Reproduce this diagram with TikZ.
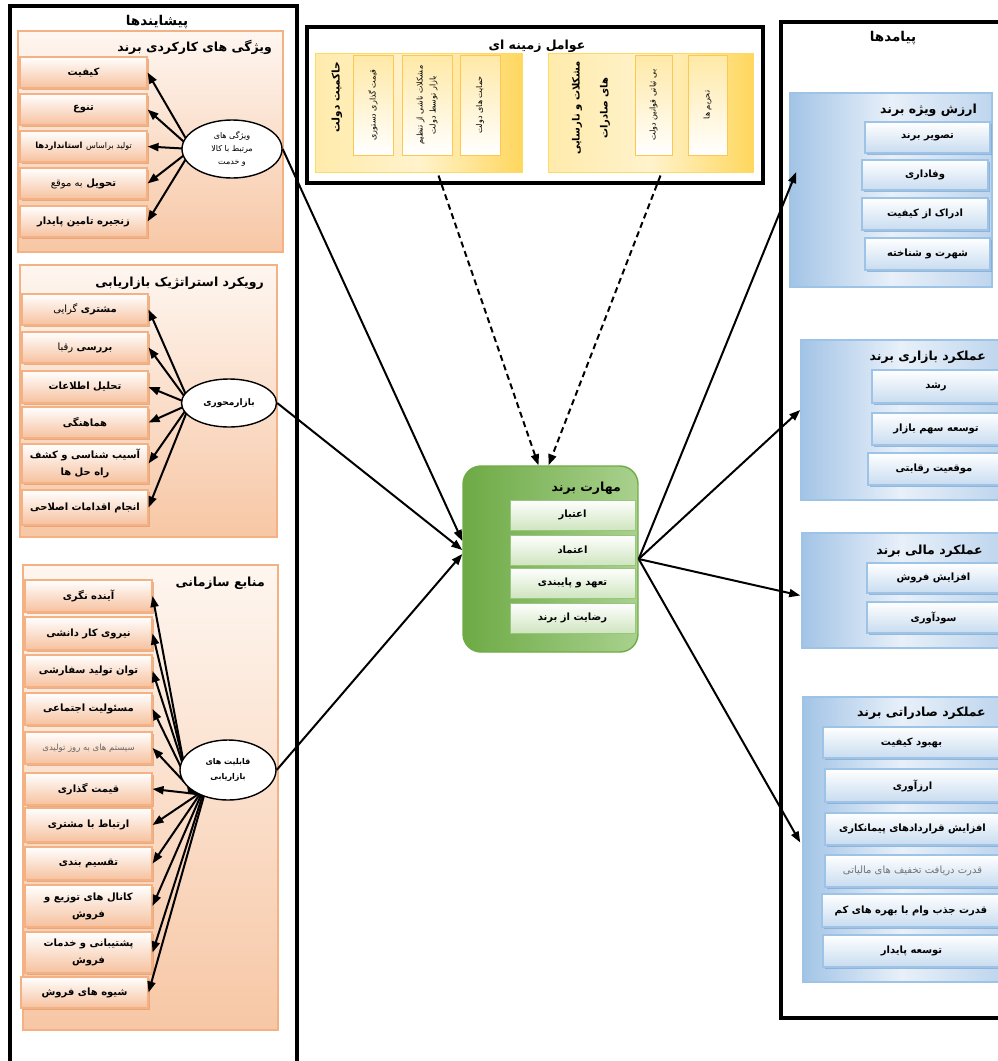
\documentclass[tikz,border=0pt]{standalone}
\usepackage{fontspec}
\setmainfont{DejaVu Sans}[Script=Arabic]
\TeXXeTstate=1
\usetikzlibrary{shapes.geometric,arrows.meta,shadows,calc}
\pgfdeclarelayer{front}
\pgfsetlayers{main,front}
\newcommand\fa[1]{\beginR #1\endR}
\newcommand\mybox[7]{\node[#1, minimum width={(#5-#3)*1pt}, minimum height={(#6-#4)*1pt}] (#2) at ({(#3+#5)/2},{(#4+#6)/2}) {#7};}
\newcommand\myvbox[7]{\node[#1, rotate=90, minimum width={(#6-#4)*1pt}, minimum height={(#5-#3)*1pt}] (#2) at ({(#3+#5)/2},{(#4+#6)/2}) {#7};}
\definecolor{oedge}{HTML}{F4B183}
\definecolor{otop}{HTML}{FEF6F0}
\definecolor{obot}{HTML}{F7C7A5}
\definecolor{oitem}{HTML}{F6C19E}
\definecolor{oshad}{HTML}{E59A6A}
\definecolor{yedge}{HTML}{FFD966}
\definecolor{ylight}{HTML}{FFF3CC}
\definecolor{ydark}{HTML}{FFD75E}
\definecolor{yitem}{HTML}{FFE9A6}
\definecolor{gedge}{HTML}{6FAC46}
\definecolor{gdark}{HTML}{6DAA45}
\definecolor{glight}{HTML}{A9D18E}
\definecolor{gitem}{HTML}{CFE5BF}
\definecolor{bedge}{HTML}{9DC3E6}
\definecolor{bdark}{HTML}{A3C4E6}
\definecolor{blight}{HTML}{E8F0F9}
\definecolor{bitem}{HTML}{C8DCF0}
\definecolor{bshad}{HTML}{7FA7D2}
\tikzset{
  every node/.style={inner sep=1pt},
  frame/.style={draw=black, line width=3.2pt},
  ttl/.style={font=\bfseries\fontsize{12.5}{14}\selectfont, anchor=east},
  bigttl/.style={font=\bfseries\fontsize{13.5}{15}\selectfont},
  itemtxt/.style={align=center, font=\bfseries\fontsize{10}{17}\selectfont},
  ocont/.style={draw=oedge, line width=1.6pt, top color=otop, bottom color=obot},
  oitembox/.style={itemtxt, draw=oedge, line width=1.1pt, top color=white, bottom color=oitem,
     drop shadow={fill=oshad, opacity=0.75, shadow xshift=1.6pt, shadow yshift=-1.6pt}},
  ycont/.style={draw=yedge, line width=1pt, left color=ylight!70!ydark, right color=ydark, middle color=ylight},
  yitembox/.style={draw=yedge!80!orange, line width=0.6pt, top color=yitem, bottom color=white, align=center,
     font=\fontsize{8}{13}\selectfont,
     drop shadow={fill=yedge!70!orange, opacity=0.6, shadow xshift=1.2pt, shadow yshift=-1.2pt}},
  gcont/.style={draw=gedge, line width=1.4pt, rounded corners=18pt, left color=gdark, right color=glight},
  gitembox/.style={itemtxt, draw=gedge!70, line width=0.6pt, top color=white, bottom color=gitem,
     drop shadow={fill=gedge, opacity=0.6, shadow xshift=1.3pt, shadow yshift=-1.3pt}},
  bcont/.style={draw=bedge, line width=1.5pt, left color=bdark, right color=bdark!70!white, middle color=blight},
  bitembox/.style={itemtxt, draw=bedge, line width=1.1pt, top color=white, bottom color=bitem,
     drop shadow={fill=bshad, opacity=0.75, shadow xshift=1.6pt, shadow yshift=-1.6pt}},
  ell/.style={ellipse, draw, line width=1.4pt, fill=white, align=center, inner sep=0pt,
     font=\fontsize{8}{13}\selectfont},
  arr/.style={-{Triangle[length=11pt,width=8pt]}, line width=2pt},
  darr/.style={arr, dash pattern=on 6pt off 4pt}
}
\begin{document}
\begin{tikzpicture}[x=1pt,y=-1pt]
\useasboundingbox (0,0) rectangle (997,1061);
\fill[white] (0,0) rectangle (997,1061);

% ---------- left column ----------
\draw[frame] (10,1070) -- (10,6) -- (297,6) -- (297,1070);
\node[bigttl] (tleft) at (157,22) {\fa{پیشایندها}};

% group 1
\mybox{ocont}{c1}{18}{31}{283}{252}{}
\node[ttl] (tc1) at (273,47) {\fa{ویژگی های کارکردی برند}};
\mybox{oitembox}{k1}{20}{57}{147}{88}{\fa{کیفیت}}
\mybox{oitembox}{k2}{20}{94}{147}{125}{\fa{تنوع}}
\mybox{oitembox}{k3}{20}{131}{147}{162}{\fa{{\mdseries\fontsize{8}{12}\selectfont تولید براساس} {\fontsize{8.5}{12}\selectfont استانداردها}}}
\mybox{oitembox}{k4}{20}{168}{147}{199}{\fa{تحویل {\mdseries به موقع}}}
\mybox{oitembox}{k5}{20}{206}{147}{237}{\fa{زنجیره تامین پایدار}}
\begin{pgfonlayer}{front}
\node[ell, minimum width=100pt, minimum height=58pt] (e1) at (232,149) {\fa{ویژگی های}\\\fa{مرتبط با کالا}\\\fa{و خدمت}};
\end{pgfonlayer}
\foreach \t in {k1,k2,k3,k4,k5} \draw[arr] (192,149) -- (\t.east);

% group 2
\mybox{ocont}{c2}{20}{265}{277}{537}{}
\node[ttl] (tc2) at (265,283) {\fa{رویکرد استراتژیک بازاریابی}};
\mybox{oitembox}{m1}{22}{294}{148}{325}{\fa{مشتری {\mdseries گرایی}}}
\mybox{oitembox}{m2}{22}{332}{148}{363}{\fa{بررسی {\mdseries رقبا}}}
\mybox{oitembox}{m3}{22}{371}{148}{403}{\fa{تحلیل اطلاعات}}
\mybox{oitembox}{m4}{22}{407}{148}{438}{\fa{هماهنگی}}
\mybox{oitembox}{m5}{22}{444}{148}{483}{\fa{آسیب شناسی و کشف}\\\fa{راه حل ها}}
\mybox{oitembox}{m6}{22}{490}{148}{525}{\fa{انجام اقدامات اصلاحی}}
\begin{pgfonlayer}{front}
\node[ell, minimum width=95pt, minimum height=48pt, font=\bfseries\fontsize{9}{13}\selectfont] (e2) at (229,403) {\fa{بازارمحوری}};
\end{pgfonlayer}
\foreach \t in {m1,m2,m3,m4,m5,m6} \draw[arr] (190,404) -- (\t.east);

% group 3
\mybox{ocont}{c3}{23}{565}{278}{1030}{}
\node[ttl] (tc3) at (266,583) {\fa{منابع سازمانی}};
\mybox{oitembox}{r1}{25}{580}{152}{612}{\fa{آینده نگری}}
\mybox{oitembox}{r2}{25}{617}{152}{650}{\fa{نیروی کار دانشی}}
\mybox{oitembox}{r3}{25}{655}{152}{687}{\fa{توان تولید سفارشی}}
\mybox{oitembox}{r4}{25}{693}{152}{725}{\fa{مسئولیت اجتماعی}}
\mybox{oitembox}{r5}{25}{732}{152}{764}{\color{black!60}\mdseries\fontsize{8.5}{12}\selectfont\fa{سیستم های به روز تولیدی}}
\mybox{oitembox}{r6}{25}{773}{152}{805}{\fa{قیمت گذاری}}
\mybox{oitembox}{r7}{25}{808}{152}{842}{\fa{ارتباط با مشتری}}
\mybox{oitembox}{r8}{25}{847}{152}{880}{\fa{تقسیم بندی}}
\mybox{oitembox}{r9}{25}{885}{152}{927}{\fa{کانال های توزیع و}\\\fa{فروش}}
\mybox{oitembox}{r10}{25}{932}{152}{973}{\fa{پشتیبانی و خدمات}\\\fa{فروش}}
\mybox{oitembox}{r11}{21}{977}{148}{1008}{\fa{شیوه های فروش}}
\begin{pgfonlayer}{front}
\node[ell, minimum width=96pt, minimum height=60pt, font=\bfseries\fontsize{8}{15}\selectfont] (e3) at (228,770) {\fa{قابلیت های}\\\fa{بازاریابی}};
\end{pgfonlayer}
\foreach \t [count=\i] in {r1,r2,r3,r4,r5,r6,r7,r8,r9,r10,r11} \draw[arr] ({188+1.5*\i},794) -- (\t.east);

% ---------- top centre ----------
\draw[frame] (307,27) rectangle (763,183);
\node[bigttl, font=\bfseries\fontsize{12.5}{14}\selectfont] (ttop) at (537,46) {\fa{عوامل زمینه ای}};
\mybox{ycont}{y1}{315}{53}{522}{172}{}
\node[bigttl, rotate=90, font=\bfseries\fontsize{10.5}{13}\selectfont] (ty1) at (337,97) {\fa{حاکمیت دولت}};
\myvbox{yitembox}{ya}{353}{55}{393}{155}{\fa{قیمت گذاری دستوری}}
\myvbox{yitembox}{yb}{402}{55}{452}{155}{\fa{مشکلات ناشی از تنظیم}\\\fa{بازار توسط دولت}}
\myvbox{yitembox}{yc}{460}{55}{500}{155}{\fa{حمایت های دولت}}
\mybox{ycont}{y2}{548}{53}{753}{172}{}
\node[bigttl, rotate=90, align=center, font=\bfseries\fontsize{10}{28}\selectfont] (ty2) at (591,108) {\fa{مشکلات و نارسایی}\\\fa{های صادرات}};
\myvbox{yitembox}{yd}{635}{55}{672}{155}{\fa{بی ثباتی قوانین دولت}}
\myvbox{yitembox}{ye}{688}{55}{727}{155}{\fa{تحریم ها}}

% ---------- centre ----------
\mybox{gcont}{gb}{463}{466}{638}{652}{}
\node[ttl] (tg) at (622,488) {\fa{مهارت برند}};
\mybox{gitembox}{g1}{510}{500}{635}{530}{\fa{اعتبار}}
\mybox{gitembox}{g2}{510}{535}{635}{565}{\fa{اعتماد}}
\mybox{gitembox}{g3}{510}{568}{635}{598}{\fa{تعهد و پایبندی}}
\mybox{gitembox}{g4}{510}{603}{635}{633}{\fa{رضایت از برند}}

\draw[darr] ($(y1.south)+(20,3)$) -- ($(gb.north)+(-12,0)$);
\draw[darr] ($(y2.south)+(10,3)$) -- ($(gb.north)+(-2,0)$);

\draw[arr] (e1.east) -- ($(gb.west)+(0,-18)$);
\draw[arr] (e2.east) -- ($(gb.west)+(0,-9)$);
\draw[arr] (e3.east) -- ($(gb.west)+(0,-5)$);

% ---------- right column ----------
\draw[frame] (1005,22) -- (781,22) -- (781,1018) -- (1005,1018);
\node[bigttl] (tright) at (893,38) {\fa{پیامدها}};

\mybox{bcont}{b1}{790}{93}{992}{287}{}
\node[ttl] (tb1) at (978,110) {\fa{ارزش ویژه برند}};
\mybox{bitembox}{n1}{865}{122}{990}{153}{\fa{تصویر برند}}
\mybox{bitembox}{n2}{862}{160}{988}{190}{\fa{وفاداری}}
\mybox{bitembox}{n3}{862}{198}{988}{230}{\fa{ادراک از کیفیت}}
\mybox{bitembox}{n4}{865}{238}{990}{270}{\fa{شهرت و شناخته}}

\mybox{bcont}{b2}{801}{340}{1000}{500}{}
\node[ttl] (tb2) at (987,357) {\fa{عملکرد بازاری برند}};
\mybox{bitembox}{p1}{872}{370}{1000}{403}{\fa{رشد}}
\mybox{bitembox}{p2}{872}{413}{1000}{445}{\fa{توسعه سهم بازار}}
\mybox{bitembox}{p3}{868}{453}{1000}{485}{\fa{موقعیت رقابتی}}

\mybox{bcont}{b3}{802}{533}{1000}{648}{}
\node[ttl] (tb3) at (984,551) {\fa{عملکرد مالی برند}};
\mybox{bitembox}{q1}{867}{563}{1000}{593}{\fa{افزایش فروش}}
\mybox{bitembox}{q2}{867}{602}{1000}{633}{\fa{سودآوری}}

\mybox{bcont}{b4}{803}{697}{1000}{982}{}
\node[ttl] (tb4) at (987,713) {\fa{عملکرد صادراتی برند}};
\mybox{bitembox}{s1}{823}{727}{1000}{758}{\fa{بهبود کیفیت}}
\mybox{bitembox}{s2}{825}{769}{1000}{802}{\fa{ارزآوری}}
\mybox{bitembox}{s3}{825}{813}{1000}{845}{\fa{افزایش قراردادهای پیمانکاری}}
\mybox{bitembox}{s4}{825}{855}{1000}{887}{\color{black!55}\mdseries\fa{قدرت دریافت تخفیف های مالیاتی}}
\mybox{bitembox}{s5}{822}{894}{1000}{927}{\fa{قدرت جذب وام با بهره های کم}}
\mybox{bitembox}{s6}{823}{935}{1000}{967}{\fa{توسعه پایدار}}

\draw[arr] (gb.east) -- ($(b1.west)+(7,-18)$);
\draw[arr] (gb.east) -- ($(b2.west)+(0,-10)$);
\draw[arr] (gb.east) -- ($(b3.west)+(-1,5)$);
\draw[arr] (gb.east) -- ($(b4.west)+(-2,3)$);
\end{tikzpicture}
\end{document}
